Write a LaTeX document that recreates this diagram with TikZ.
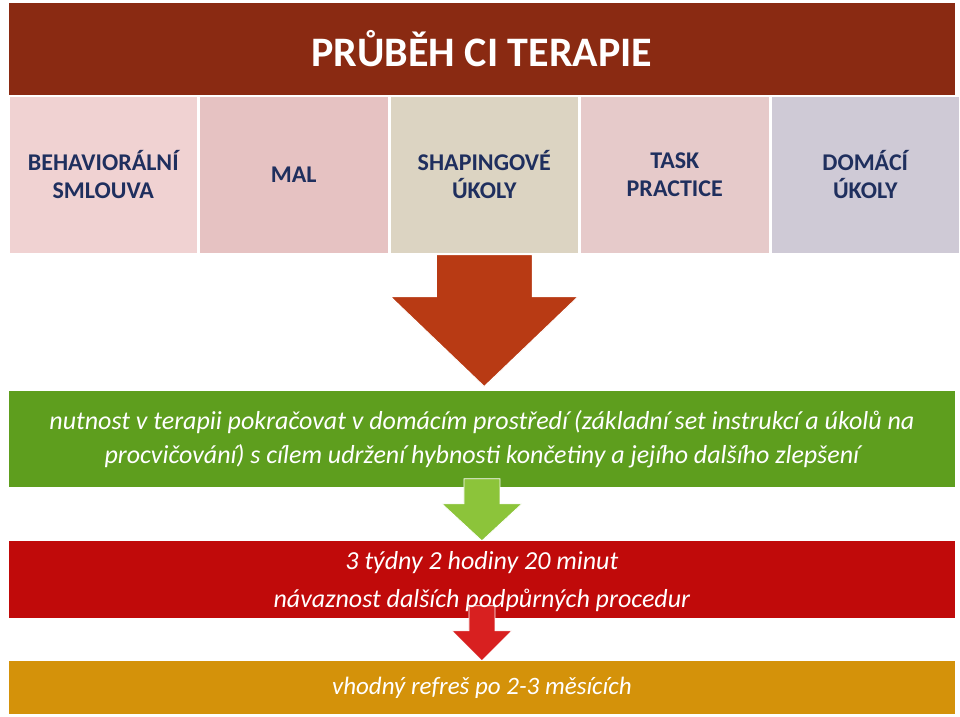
\documentclass[tikz,border=0pt]{standalone}
\usepackage{fontspec}
\setmainfont{Carlito}
\usetikzlibrary{positioning,calc}
\definecolor{titlered}{HTML}{8A2A12}
\definecolor{boxa}{HTML}{F0D2D2}
\definecolor{boxb}{HTML}{E6C2C2}
\definecolor{boxc}{HTML}{DCD4C2}
\definecolor{boxd}{HTML}{E6CACA}
\definecolor{boxe}{HTML}{CFCAD6}
\definecolor{stagetext}{HTML}{1F2F5E}
\definecolor{arrowred}{HTML}{B83A14}
\definecolor{bargreen}{HTML}{5E9E1E}
\definecolor{arrowgreen}{HTML}{8CC43A}
\definecolor{barred}{HTML}{C00A0A}
\definecolor{arrowred2}{HTML}{D82020}
\definecolor{barorange}{HTML}{D4920A}
\tikzset{
  bar/.style={draw=white, line width=0.8pt, minimum width=947pt, inner sep=0pt, text=white, align=center},
  stage/.style={draw=white, line width=1.5pt, minimum width=189pt, minimum height=158pt, inner sep=2pt,
    align=center, font=\fontsize{24}{28}\selectfont\bfseries, text=stagetext},
  notetext/.style={font=\fontsize{26}{34}\selectfont\itshape}
}
\begin{document}
\begin{tikzpicture}[x=1pt,y=-1pt]
\useasboundingbox (0,0) rectangle (960,716);
\fill[white] (0,0) rectangle (960,716);

% Title
\node[bar, fill=titlered, minimum height=93pt, font=\fontsize{42}{44}\selectfont\bfseries, anchor=north west]
  (title) at (8,2) {\raisebox{-24pt}{PRŮBĚH CI TERAPIE}};

% Stages
\node[stage, fill=boxa, anchor=north west] (smlouva) at (8,95) {BEHAVIORÁLNÍ\\SMLOUVA};
\node[stage, fill=boxb, right=0pt of smlouva] (mal) {MAL};
\node[stage, fill=boxc, right=0pt of mal] (shaping) {SHAPINGOVÉ\\ÚKOLY};
\node[stage, fill=boxd, right=0pt of shaping] (task) {TASK\\PRACTICE};
\node[stage, fill=boxe, right=0pt of task] (domaci) {DOMÁCÍ\\ÚKOLY};

% Green bar
\node[bar, fill=bargreen, minimum height=97pt, notetext, anchor=north west]
  (nutnost) at (8,390) {nutnost v terapii pokračovat v domácím prostředí (základní set instrukcí a úkolů na\\procvičování) s cílem udržení hybnosti končetiny a jejího dalšího zlepšení};

% Big arrow
\fill[arrowred, draw=white, line width=1pt] ($(shaping.south)+(-48,0)$) -- ++(0,42) -- ++(-46,0)
  -- ($(shaping.south)+(0,132)$) -- ($(shaping.south)+(94,42)$) -- ++(-46,0) -- ++(0,-42) -- cycle;

% Small green arrow
\fill[arrowgreen, draw=white, line width=0.8pt] ($(nutnost.south)+(-18,-9)$) -- ++(0,25) -- ++(-22,0)
  -- ($(nutnost.south)+(0,53)$) -- ($(nutnost.south)+(40,16)$) -- ++(-22,0) -- ++(0,-25) -- cycle;

% Red bar
\node[bar, fill=barred, minimum height=78pt, anchor=north west] (hodiny) at (8,540) {};

% Small red arrow
\fill[arrowred2, draw=white, line width=0.8pt] ($(hodiny.south)+(-13,-13)$) -- ++(0,25) -- ++(-17,0)
  -- ($(hodiny.south)+(0,42)$) -- ($(hodiny.south)+(30,12)$) -- ++(-17,0) -- ++(0,-25) -- cycle;

\node[text=white, align=center, font=\fontsize{26}{38}\selectfont\itshape] (hodinytext) at ($(hodiny.center)+(0,2)$)
  {3 týdny 2 hodiny 20 minut\\návaznost dalších podpůrných procedur};

% Orange bar
\node[bar, fill=barorange, minimum height=54pt, font=\fontsize{25}{30}\selectfont\itshape, anchor=north west] (refres) at (8,660)
  {vhodný refreš po 2-3 měsících};
\end{tikzpicture}
\end{document}
